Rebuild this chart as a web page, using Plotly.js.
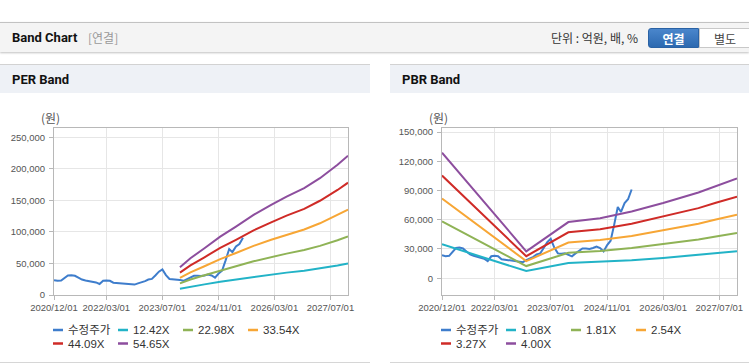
<!DOCTYPE html>
<html>
<head>
<meta charset="utf-8">
<script src="https://cdn.plot.ly/plotly-3.0.1.min.js"></script>
<style>
  html, body { margin:0; padding:0; }
  body { width:749px; height:364px; overflow:hidden; background:#fff; position:relative;
         font-family:"Liberation Sans","Noto Sans CJK KR",Arial,sans-serif; }
  .topbar { position:absolute; left:0; top:22px; width:749px; height:29px; background:#f4f4f4;
            border-top:1px solid #c2c2c2; box-shadow:0 1px 2px rgba(0,0,0,0.25); }
  .topbar .ttl { position:absolute; left:12px; top:0; line-height:30px; font-size:13px; font-weight:bold; color:#111;
                 font-family:Roboto,"Liberation Sans",sans-serif; }
  .topbar .sub { position:absolute; left:88px; top:0; line-height:30px; font-size:12px; color:#999;
                 font-family:"Noto Sans CJK KR",sans-serif; }
  .topbar .unit { position:absolute; left:551px; top:0; line-height:30px; font-size:12px; color:#333;
                  font-family:"Noto Sans CJK KR",sans-serif; }
  .btn { position:absolute; top:5px; height:20px; line-height:20px; font-size:12px; text-align:center;
         font-family:"Noto Sans CJK KR",sans-serif; box-sizing:border-box; }
  .btn.on { left:648px; width:51px; background:linear-gradient(#4a86cc,#2c69b0); color:#fff; font-weight:bold;
            border:1px solid #2a62a4; border-radius:3px 0 0 3px; }
  .btn.off { left:699px; width:52px; background:#fff; color:#444; border:1px solid #c8c8c8; }
  .panel { position:absolute; top:64px; height:297px; border-top:1px solid #d2d2d2; border-bottom:1px solid #d6d6d6; background:#fff; }
  .panel .head { height:28px; line-height:29px; background:#eef1f6; padding-left:12px; font-size:13px; font-weight:bold; color:#111;
                 font-family:Roboto,"Liberation Sans",sans-serif; }
  .chart { position:absolute; top:93px; height:268px; }
</style>
</head>
<body>
<div class="topbar">
  <span class="ttl">Band Chart</span>
  <span class="sub">[연결]</span>
  <span class="unit">단위 : 억원, 배, %</span>
  <div class="btn on">연결</div>
  <div class="btn off">별도</div>
</div>
<div class="panel" style="left:0;width:370px;"><div class="head">PER Band</div></div>
<div class="panel" style="left:390px;width:359px;"><div class="head">PBR Band</div></div>
<div id="per" class="chart" style="left:0;width:370px;"></div>
<div id="pbr" class="chart" style="left:390px;width:359px;"></div>
<script>
// ---------- data ----------
const priceName = '수정주가';
const priceDates = ['2020-12-01','2021-01-01','2021-02-01','2021-03-01','2021-04-01','2021-05-01','2021-06-01','2021-07-01',
  '2021-08-01','2021-09-01','2021-10-01','2021-11-01','2021-12-01','2022-01-01','2022-02-01','2022-03-01','2022-04-01',
  '2022-05-01','2022-06-01','2022-07-01','2022-08-01','2022-09-01','2022-10-01','2022-11-01','2022-12-01','2023-01-01',
  '2023-02-01','2023-03-01','2023-04-01','2023-05-01','2023-06-01','2023-07-01','2023-08-01','2023-09-01','2023-10-01',
  '2023-11-01','2023-12-01','2024-01-01','2024-02-01','2024-03-01','2024-04-01','2024-05-01','2024-06-01','2024-07-01',
  '2024-08-01','2024-09-01','2024-10-01','2024-11-01','2024-12-01','2025-01-01','2025-02-01','2025-03-01','2025-04-01',
  '2025-05-01','2025-06-01'];
const priceValues = [23500,22500,23000,27000,31000,31500,30500,27500,24500,23000,22000,21500,20000,17500,22500,23000,22500,
  19500,19000,18500,17500,17500,16800,16500,18500,20000,22000,24500,25500,31000,37000,40500,31500,25500,25000,25500,24000,
  22500,25500,28000,30500,30500,30000,31000,32500,31000,27500,34000,38500,55000,73000,68000,77000,81000,91000];

const perNames = ['12.42X','22.98X','33.54X','44.09X','54.65X'];
const perDates = ['2023-12-01','2024-03-01','2024-07-01','2024-11-15','2025-04-01','2025-09-01','2026-02-01','2026-06-15',
  '2026-11-15','2027-04-01','2027-09-01','2027-12-01'];
const per1242 = [10000,13250,16870,21060,24680,28890,32500,35500,38530,42130,46950,50200];
const per2298 = [18500,24520,31210,38970,45660,53450,60140,65680,71280,77950,86860,92890];
const per3354 = [27000,35790,45550,56880,66640,78010,87770,95860,104040,113770,126780,135570];
const per4409 = [35490,47040,59870,74780,87610,102550,115380,126010,136770,149550,166660,178210];
const per5465 = [44000,58310,74210,92690,108590,127120,143020,156190,169520,185370,206580,220900];

const pbrNames = ['1.08X','1.81X','2.54X','3.27X','4.00X'];
const pbrDates = ['2020-12-01','2021-12-01','2022-12-01','2023-12-01','2024-09-01','2025-06-01','2026-03-01','2027-01-01',
  '2027-06-01','2027-12-01'];
const pbr108 = [34780,21110,7450,15550,16630,18470,20840,23760,25600,27650];
const pbr181 = [58280,35390,12490,26060,27870,30950,34930,39820,42900,46340];
const pbr254 = [81790,49660,17530,36580,39120,43430,49020,55880,60200,65020];
const pbr327 = [105290,63930,22560,47090,50360,55920,63110,71940,77500,83710];
const pbr400 = [128800,78200,27600,57600,61600,68400,77200,88000,94800,102400];

const xTickVals = ['2020-12-01','2022-03-01','2023-07-01','2024-11-01','2026-03-01','2027-07-01'];
const xTickText = ['2020/12/01','2022/03/01','2023/07/01','2024/11/01','2026/03/01','2027/07/01'];
const perYTicks = [0,50000,100000,150000,200000,250000];
const pbrYTicks = [0,30000,60000,90000,120000,150000];
const yUnit = '(원)';

const colors = ['#3e7dcc','#22b3c7','#8fb356','#f7a635','#cf2b27','#8d4e9e'];

// ---------- drawing ----------
const tickFont = {family:"'Liberation Sans',Arial,sans-serif", size:9.5, color:'#555'};
const legFont = {family:"'Liberation Sans','Noto Sans CJK KR',Arial,sans-serif", size:11.5, color:'#333'};

function build(divId, W, H, m, bandDates, bandSeries, bandNames, yRange, yTicks) {
  const traces = [{x:priceDates, y:priceValues, name:priceName, mode:'lines', line:{color:colors[0], width:2}}];
  bandSeries.forEach((s,i)=>traces.push({x:bandDates, y:s, name:bandNames[i], mode:'lines',
                                         line:{color:colors[i+1], width:2}}));
  const pw = W - m.l - m.r, ph = H - m.t - m.b;
  const px = v => (v - m.l)/pw, py = v => (H - m.b - v)/ph;
  const names = [priceName].concat(bandNames);
  const ann = [{text:yUnit, xref:'paper', yref:'paper', x:px(m.l-4), y:py(25), xanchor:'center', yanchor:'middle',
                showarrow:false, font:{family:"'Noto Sans CJK KR',sans-serif", size:12, color:'#555'}}];
  const shapes = [];
  names.forEach((n,i)=>{
    const col = i%4, row = Math.floor(i/4);
    const lx = m.l - 1 + col*65, ly = 237 + row*13.5;
    shapes.push({type:'line', xref:'paper', yref:'paper', x0:px(lx), x1:px(lx+10), y0:py(ly), y1:py(ly),
                 line:{color:colors[i], width:2.5}});
    ann.push({text:n, xref:'paper', yref:'paper', x:px(lx+13), y:py(ly), xanchor:'left', yanchor:'middle',
              showarrow:false, font:legFont});
  });
  const layout = {
    width:W, height:H, margin:m, paper_bgcolor:'rgba(0,0,0,0)', plot_bgcolor:'#fff', showlegend:false,
    xaxis:{type:'date', range:['2020-12-01','2027-12-01'], tickvals:xTickVals, ticktext:xTickText, tickangle:0,
           tickfont:tickFont, showgrid:true, gridcolor:'#e6e6e6', gridwidth:1, showline:true, linecolor:'#b8b8b8',
           mirror:true, ticks:'outside', ticklen:4, tickcolor:'#b8b8b8', zeroline:false, fixedrange:true},
    yaxis:{range:yRange, tickvals:yTicks, tickformat:',d', tickfont:tickFont, showgrid:true, gridcolor:'#e6e6e6',
           showline:true, linecolor:'#b8b8b8', mirror:true, ticks:'outside', ticklen:4, tickcolor:'#b8b8b8',
           zeroline:false, ticklabelstandoff:2, fixedrange:true},
    annotations:ann, shapes:shapes
  };
  Plotly.newPlot(divId, traces, layout, {displayModeBar:false, staticPlot:true});
}

build('per', 370, 268, {l:54, r:22, t:35, b:66, pad:0}, perDates, [per1242,per2298,per3354,per4409,per5465],
      perNames, [0,265000], perYTicks);
build('pbr', 359, 268, {l:52, r:12, t:35, b:66, pad:0}, pbrDates, [pbr108,pbr181,pbr254,pbr327,pbr400],
      pbrNames, [-17200,154100], pbrYTicks);
</script>
</body>
</html>
